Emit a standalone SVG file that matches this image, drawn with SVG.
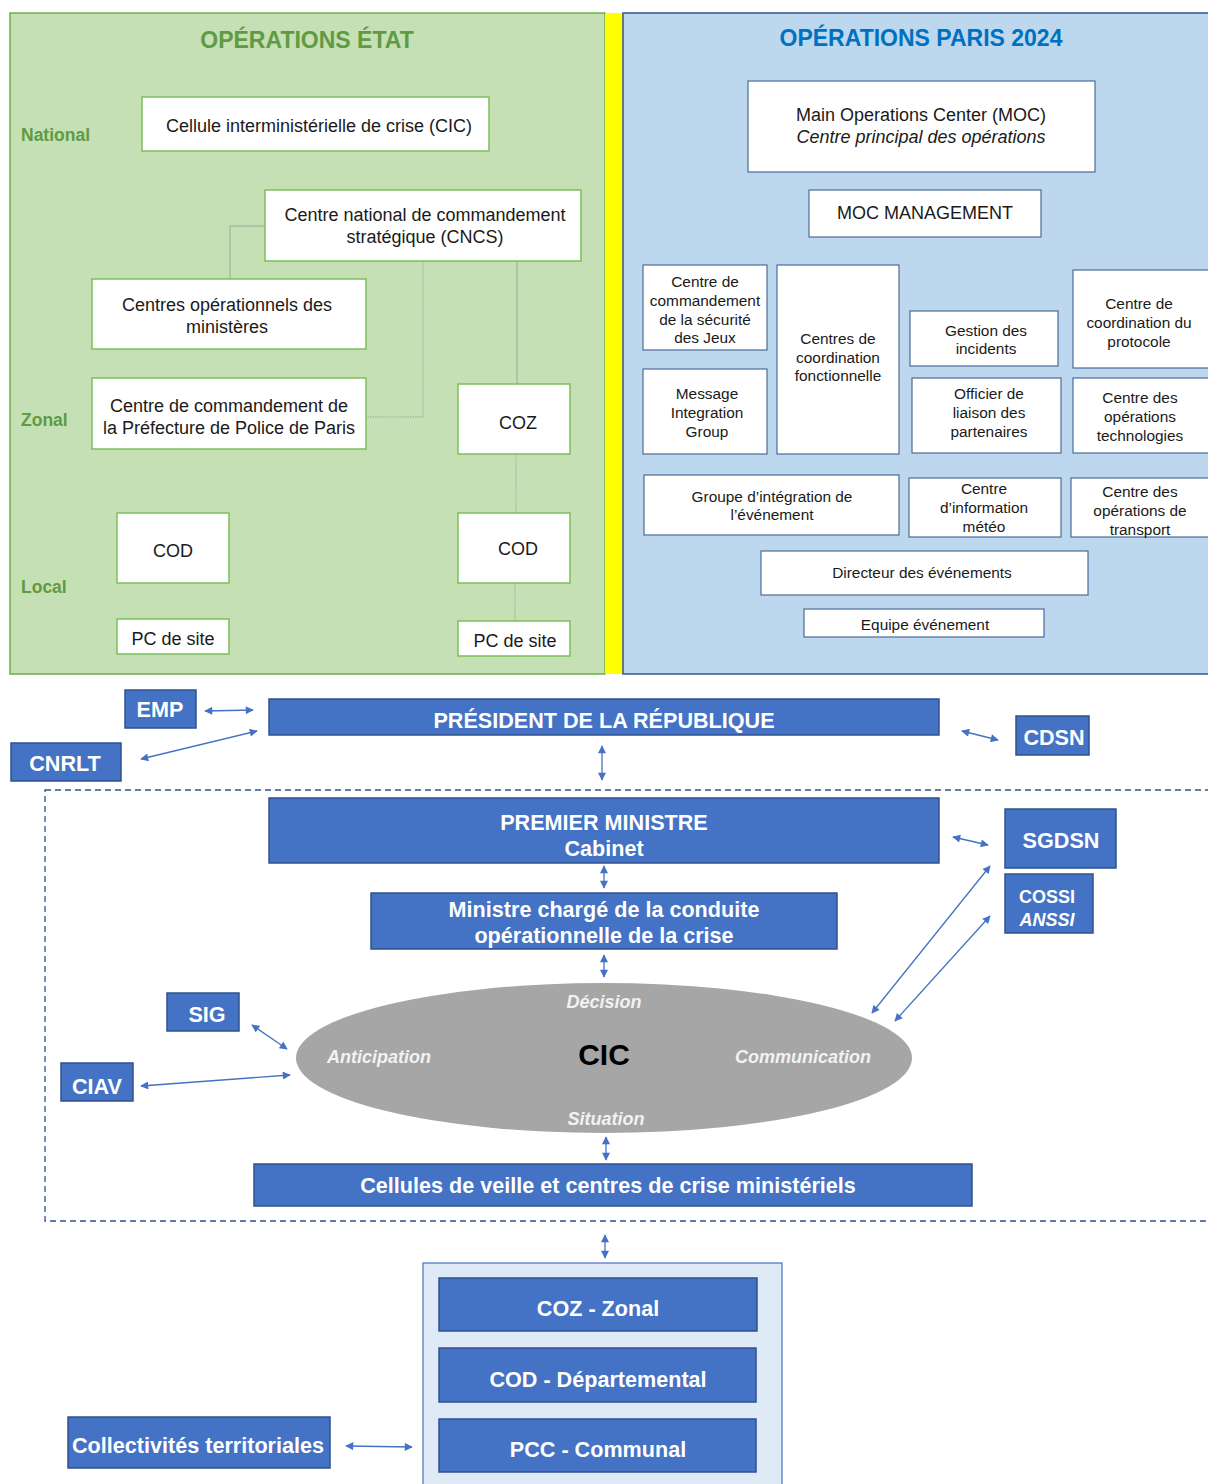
<svg xmlns="http://www.w3.org/2000/svg" width="1208" height="1484" viewBox="0 0 1208 1484">
<style>
.gbox{fill:#fff;stroke:#7DBE5B;stroke-width:1.5}
.bbox{fill:#fff;stroke:#4A6C96;stroke-width:1.2}
.t17{font-family:"Liberation Sans",Arial,sans-serif;font-size:18px;fill:#1a1a1a;text-anchor:middle}
.t15{font-family:"Liberation Sans",Arial,sans-serif;font-size:15.4px;fill:#1a1a1a;text-anchor:middle}
.lvl{font-family:"Liberation Sans",Arial,sans-serif;font-size:17.5px;font-weight:bold;fill:#5E9B43}
.blue{fill:#4472C4;stroke:#2F528F;stroke-width:1.5}
.wt{font-family:"Liberation Sans",Arial,sans-serif;font-size:21.6px;font-weight:bold;fill:#fff;text-anchor:middle}
.el{font-family:"Liberation Sans",Arial,sans-serif;font-size:18px;font-weight:bold;font-style:italic;fill:#F2F2F2;text-anchor:middle}
.cn{fill:none;stroke:#9AA99A;stroke-width:1}
.ar{fill:none;stroke:#4472C4;stroke-width:1.3;marker-start:url(#ah);marker-end:url(#ah)}
</style>
<defs>
<marker id="ah" viewBox="0 0 10 10" refX="9" refY="5" markerWidth="9" markerHeight="8" markerUnits="userSpaceOnUse" orient="auto-start-reverse">
<path d="M0,0 L10,5 L0,10 z" fill="#4472C4"/>
</marker>
</defs>

<!-- panels -->
<g id="panel-etat">
<rect x="10" y="13" width="595" height="661" fill="#C5E0B4" stroke="#70AD47" stroke-width="1.5"/>
<text x="307" y="48" font-family="Liberation Sans,Arial,sans-serif" font-size="23" font-weight="bold" fill="#5E9B43" text-anchor="middle">OPÉRATIONS ÉTAT</text>
<text class="lvl" x="21" y="141">National</text>
<text class="lvl" x="21" y="426">Zonal</text>
<text class="lvl" x="21" y="593">Local</text>
</g>
<rect x="605" y="13" width="18" height="661" fill="#FFFF00"/>
<g id="panel-paris">
<rect x="623" y="13" width="592" height="661" fill="#BDD7EE" stroke="#2F5597" stroke-width="1.5"/>
<text x="921" y="46" font-family="Liberation Sans,Arial,sans-serif" font-size="23" font-weight="bold" fill="#0070C0" text-anchor="middle">OPÉRATIONS PARIS 2024</text>
</g>

<!-- connectors -->
<g id="connectors">
<polyline class="cn" points="265,226 230,226 230,279"/>
<polyline class="cn" points="423,261 423,417 366,417" stroke-dasharray="1.5,1"/>
<line class="cn" x1="517" y1="261" x2="517" y2="384"/>
<line class="cn" x1="516" y1="454" x2="516" y2="513" stroke-dasharray="1.5,1"/>
<line class="cn" x1="515" y1="583" x2="515" y2="621" stroke-dasharray="1.5,1"/>

<line class="ar" x1="205" y1="711" x2="253" y2="710"/>
<line class="ar" x1="141" y1="759" x2="257" y2="731"/>
<line class="ar" x1="962" y1="731" x2="998" y2="740"/>
<line class="ar" x1="602" y1="746" x2="602" y2="780"/>
<line class="ar" x1="953" y1="837" x2="988" y2="845"/>
<line class="ar" x1="604" y1="866" x2="604" y2="888"/>
<line class="ar" x1="604" y1="955" x2="604" y2="977"/>
<line class="ar" x1="990" y1="866" x2="872" y2="1013"/>
<line class="ar" x1="990" y1="916" x2="895" y2="1021"/>
<line class="ar" x1="252" y1="1025" x2="287" y2="1049"/>
<line class="ar" x1="141" y1="1086" x2="290" y2="1075"/>
<line class="ar" x1="606" y1="1137" x2="606" y2="1160"/>
<line class="ar" x1="605" y1="1235" x2="605" y2="1258"/>
<line class="ar" x1="346" y1="1446" x2="412" y2="1447"/>
</g>

<!-- left nodes -->
<g id="cic-etat"><rect class="gbox" x="142" y="97" width="347" height="54"/><text class="t17" x="319" y="132">Cellule interministérielle de crise (CIC)</text></g>
<g id="cncs"><rect class="gbox" x="265" y="190" width="316" height="71"/><text class="t17" x="425" y="221">Centre national de commandement</text><text class="t17" x="425" y="243">stratégique (CNCS)</text></g>
<g id="com"><rect class="gbox" x="92" y="279" width="274" height="70"/><text class="t17" x="227" y="311">Centres opérationnels des</text><text class="t17" x="227" y="333">ministères</text></g>
<g id="ppp"><rect class="gbox" x="92" y="378" width="274" height="71"/><text class="t17" x="229" y="412">Centre de commandement de</text><text class="t17" x="229" y="434">la Préfecture de Police de Paris</text></g>
<g id="coz-etat"><rect class="gbox" x="458" y="384" width="112" height="70"/><text class="t17" x="518" y="429">COZ</text></g>
<g id="cod-l"><rect class="gbox" x="117" y="513" width="112" height="70"/><text class="t17" x="173" y="557">COD</text></g>
<g id="cod-r"><rect class="gbox" x="458" y="513" width="112" height="70"/><text class="t17" x="518" y="555">COD</text></g>
<g id="pc-l"><rect class="gbox" x="117" y="619" width="112" height="35"/><text class="t17" x="173" y="645">PC de site</text></g>
<g id="pc-r"><rect class="gbox" x="458" y="621" width="112" height="35"/><text class="t17" x="515" y="647">PC de site</text></g>

<!-- right nodes -->
<g id="moc"><rect class="bbox" x="748" y="81" width="347" height="91"/><text class="t17" x="921" y="121">Main Operations Center (MOC)</text><text class="t17" x="921" y="143" font-style="italic">Centre principal des opérations</text></g>
<g id="moc-mgmt"><rect class="bbox" x="809" y="190" width="232" height="47"/><text class="t17" x="925" y="219">MOC MANAGEMENT</text></g>
<g id="ccsj"><rect class="bbox" x="643" y="265" width="124" height="85"/><text class="t15" x="705" y="287">Centre de</text><text class="t15" x="705" y="306">commandement</text><text class="t15" x="705" y="325">de la sécurité</text><text class="t15" x="705" y="343">des Jeux</text></g>
<g id="mig"><rect class="bbox" x="643" y="369" width="124" height="85"/><text class="t15" x="707" y="399">Message</text><text class="t15" x="707" y="418">Integration</text><text class="t15" x="707" y="437">Group</text></g>
<g id="ccf"><rect class="bbox" x="777" y="265" width="122" height="189"/><text class="t15" x="838" y="344">Centres de</text><text class="t15" x="838" y="363">coordination</text><text class="t15" x="838" y="381">fonctionnelle</text></g>
<g id="gi"><rect class="bbox" x="910" y="311" width="148" height="55"/><text class="t15" x="986" y="336">Gestion des</text><text class="t15" x="986" y="354">incidents</text></g>
<g id="ccp"><rect class="bbox" x="1073" y="270" width="138" height="98"/><text class="t15" x="1139" y="309">Centre de</text><text class="t15" x="1139" y="328">coordination du</text><text class="t15" x="1139" y="347">protocole</text></g>
<g id="olp"><rect class="bbox" x="912" y="378" width="149" height="75"/><text class="t15" x="989" y="399">Officier de</text><text class="t15" x="989" y="418">liaison des</text><text class="t15" x="989" y="437">partenaires</text></g>
<g id="cot"><rect class="bbox" x="1073" y="378" width="138" height="75"/><text class="t15" x="1140" y="403">Centre des</text><text class="t15" x="1140" y="422">opérations</text><text class="t15" x="1140" y="441">technologies</text></g>
<g id="gie"><rect class="bbox" x="644" y="475" width="255" height="60"/><text class="t15" x="772" y="502">Groupe d’intégration de</text><text class="t15" x="772" y="520">l’événement</text></g>
<g id="cim"><rect class="bbox" x="909" y="478" width="152" height="59"/><text class="t15" x="984" y="494">Centre</text><text class="t15" x="984" y="513">d’information</text><text class="t15" x="984" y="532">météo</text></g>
<g id="cotr"><rect class="bbox" x="1071" y="478" width="140" height="59"/><text class="t15" x="1140" y="497">Centre des</text><text class="t15" x="1140" y="516">opérations de</text><text class="t15" x="1140" y="535">transport</text></g>
<g id="dir"><rect class="bbox" x="761" y="551" width="327" height="44"/><text class="t15" x="922" y="578">Directeur des événements</text></g>
<g id="equipe"><rect class="bbox" x="804" y="609" width="240" height="28"/><text class="t15" x="925" y="630">Equipe événement</text></g>

<!-- lower section -->
<rect x="45" y="790" width="1180" height="431" fill="none" stroke="#2F528F" stroke-width="1.3" stroke-dasharray="6,4"/>
<g id="emp"><rect class="blue" x="125" y="690" width="71" height="38"/><text class="wt" x="160" y="717">EMP</text></g>
<g id="cnrlt"><rect class="blue" x="11" y="743" width="110" height="38"/><text class="wt" x="65" y="771">CNRLT</text></g>
<g id="president"><rect class="blue" x="269" y="699" width="670" height="36"/><text class="wt" x="604" y="728">PRÉSIDENT DE LA RÉPUBLIQUE</text></g>
<g id="cdsn"><rect class="blue" x="1016" y="716" width="73" height="39"/><text class="wt" x="1054" y="745">CDSN</text></g>
<g id="pm"><rect class="blue" x="269" y="798" width="670" height="65"/><text class="wt" x="604" y="830">PREMIER MINISTRE</text><text class="wt" x="604" y="856">Cabinet</text></g>
<g id="sgdsn"><rect class="blue" x="1005" y="809" width="111" height="59"/><text class="wt" x="1061" y="848">SGDSN</text></g>
<g id="cossi"><rect class="blue" x="1005" y="874" width="88" height="59"/><text class="wt" x="1047" y="903" style="font-size:18px">COSSI</text><text class="wt" x="1047" y="926" style="font-size:18px;font-style:italic">ANSSI</text></g>
<g id="ministre"><rect class="blue" x="371" y="893" width="466" height="56"/><text class="wt" x="604" y="917">Ministre chargé de la conduite</text><text class="wt" x="604" y="943">opérationnelle de la crise</text></g>
<g id="cic"><ellipse cx="604" cy="1058" rx="308" ry="75" fill="#A6A6A6"/>
<text class="el" x="604" y="1008">Décision</text>
<text class="el" x="379" y="1063">Anticipation</text>
<text x="604" y="1065" font-family="Liberation Sans,Arial,sans-serif" font-size="30" font-weight="bold" fill="#000" text-anchor="middle">CIC</text>
<text class="el" x="803" y="1063">Communication</text>
<text class="el" x="606" y="1125">Situation</text></g>
<g id="sig"><rect class="blue" x="167" y="993" width="72" height="38"/><text class="wt" x="207" y="1022">SIG</text></g>
<g id="ciav"><rect class="blue" x="61" y="1063" width="72" height="38"/><text class="wt" x="97" y="1094">CIAV</text></g>
<g id="cellules"><rect class="blue" x="254" y="1164" width="718" height="42"/><text class="wt" x="608" y="1193">Cellules de veille et centres de crise ministériels</text></g>
<g id="territorial"><rect x="423" y="1263" width="359" height="230" fill="#DEEAF6" stroke="#4472C4" stroke-width="1.2"/></g>
<g id="coz-zonal"><rect class="blue" x="439" y="1278" width="318" height="53"/><text class="wt" x="598" y="1316">COZ - Zonal</text></g>
<g id="cod-dep"><rect class="blue" x="439" y="1348" width="317" height="54"/><text class="wt" x="598" y="1387">COD - Départemental</text></g>
<g id="pcc"><rect class="blue" x="439" y="1419" width="317" height="53"/><text class="wt" x="598" y="1457">PCC - Communal</text></g>
<g id="collectivites"><rect class="blue" x="68" y="1417" width="262" height="51"/><text class="wt" x="198" y="1453">Collectivités territoriales</text></g>
</svg>
